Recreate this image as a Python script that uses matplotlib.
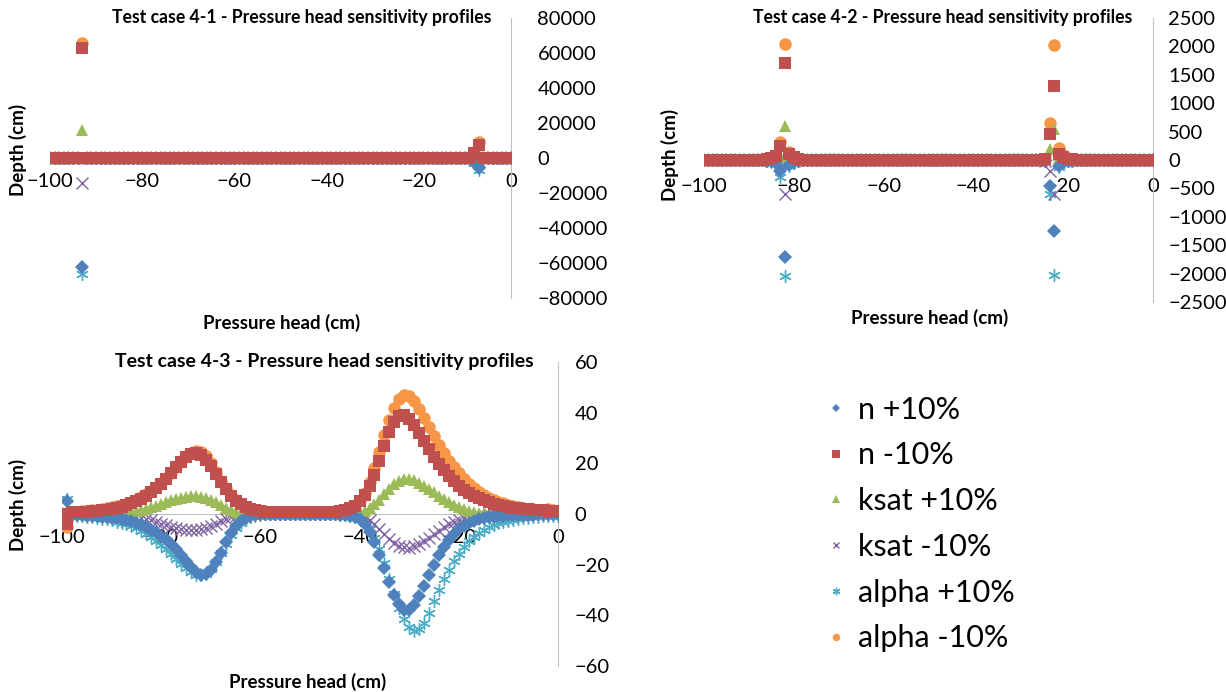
import numpy as np
import matplotlib
matplotlib.use("Agg")
from matplotlib import pyplot as plt

plt.rcParams["font.family"] = ["Lato", "DejaVu Sans"]

# x positions (pressure head grid, cm)
pressure_head = list(range(-100, 1))

series_names = ["n +10%", "n -10%", "ksat +10%", "ksat -10%", "alpha +10%", "alpha -10%"]
colors = ["#4F81BD", "#C0504D", "#9BBB59", "#8064A2", "#4BACC6", "#F79646"]
markers = ["D", "s", "^", "x", (6, 2, 0), "o"]
msizes = [7.5, 8.5, 8.5, 8, 9, 9]
zorders = [7, 8, 6, 5, 4, 3]

# ---- Test case 4-1: only a few non-zero points
p1_x = [-93, -8, -7]
p1_n_plus = [-62000, -2500, -5500]
p1_n_minus = [63000, 3000, 7500]
p1_ksat_plus = [16000, 500, 1500]
p1_ksat_minus = [-14000, -500, -1500]
p1_alpha_plus = [-66000, -3000, -7000]
p1_alpha_minus = [66000, 3500, 9000]

# ---- Test case 4-2: non-zero points around two fronts
p2_x = [-86, -85, -84, -83, -82, -81, -80, -79, -24, -23, -22, -21, -20, -19, -18]
p2_n_plus = [-10, -20, -50, -200, -1700, -90, -40, -20, -20, -450, -1250, -100, -40, -20, -10]
p2_n_minus = [15, 30, 70, 250, 1700, 110, 50, 20, 20, 450, 1300, 110, 50, 25, 10]
p2_ksat_plus = [5, 10, 20, 50, 600, 30, 15, 5, 10, 200, 550, 30, 15, 5, 2]
p2_ksat_minus = [-5, -10, -20, -50, -600, -30, -15, -5, -10, -200, -600, -30, -15, -5, -2]
p2_alpha_plus = [-15, -30, -70, -300, -2050, -100, -50, -20, -20, -600, -2020, -120, -50, -25, -10]
p2_alpha_minus = [20, 35, 90, 320, 2050, 140, 60, 25, 25, 650, 2030, 220, 80, 35, 15]

# ---- Test case 4-3: full profiles, x = -100 ... 0
p3_n_plus = [
    0, 5, -0.3, -0.4, -0.5, -0.6, -0.7, -0.8, -1.0, -1.2,
    -1.4, -1.7, -2.0, -2.4, -2.9, -3.5, -4.2, -5.1, -6.2, -7.3,
    -8.5, -10.0, -11.8, -13.8, -16.0, -18.4, -20.8, -22.8, -24.0, -23.8,
    -22.0, -19.0, -15.2, -11.2, -7.6, -4.8, -2.8, -1.5, -0.7, -0.3,
    -0.1, 0, 0, 0, 0, 0, 0, 0, 0, 0,
    0, 0, 0, 0, 0, -0.1, -0.2, -0.4, -0.7, -1.2,
    -2.0, -4.0, -7.0, -11.0, -16.0, -21.5, -27.0, -32.0, -35.5, -37.8,
    -38.0, -36.0, -32.5, -28.5, -24.2, -20.0, -16.2, -13.0, -10.2, -7.8,
    -6.0, -4.6, -3.5, -2.7, -2.1, -1.6, -1.3, -1.0, -0.8, -0.6,
    -0.5, -0.4, -0.3, -0.3, -0.2, -0.2, -0.1, -0.1, -0.1, 0,
    0]
p3_n_minus = [
    0, -4, 0.6, 0.7, 0.8, 0.9, 1.0, 1.2, 1.4, 1.7,
    2.0, 2.4, 2.9, 3.5, 4.2, 5.0, 6.0, 7.2, 8.6, 10.2,
    12.0, 14.0, 16.2, 18.5, 20.7, 22.5, 23.7, 24.0, 23.2, 21.4,
    18.8, 15.8, 12.7, 9.8, 7.3, 5.3, 3.8, 2.7, 1.9, 1.4,
    1.1, 0.9, 0.8, 0.7, 0.7, 0.6, 0.6, 0.6, 0.6, 0.6,
    0.6, 0.6, 0.6, 0.7, 0.8, 0.9, 1.1, 1.5, 2.2, 3.3,
    5.2, 7.6, 11.0, 15.5, 21.0, 27.0, 32.5, 36.5, 38.8, 39.2,
    37.5, 35.0, 32.0, 28.8, 25.6, 22.6, 19.8, 17.2, 14.9, 12.9,
    11.1, 9.6, 8.3, 7.2, 6.2, 5.4, 4.7, 4.1, 3.6, 3.2,
    2.8, 2.5, 2.2, 2.0, 1.8, 1.6, 1.5, 1.4, 1.3, 1.2,
    1.0]
p3_ksat_plus = [
    0, 0, 0.1, 0.1, 0.1, 0.1, 0.1, 0.1, 0.1, 0.1,
    0.2, 0.3, 0.4, 0.6, 0.8, 1.1, 1.5, 2.0, 2.6, 3.3,
    4.0, 4.7, 5.4, 6.0, 6.5, 6.9, 7.1, 7.1, 6.9, 6.4,
    5.6, 4.6, 3.5, 2.5, 1.6, 0.9, 0.5, 0.2, 0.1, 0,
    0, 0, 0, 0, 0, 0, 0, 0, 0, 0,
    0, 0, 0, 0, 0, 0, 0, 0, 0.1, 0.2,
    0.5, 1.2, 2.3, 3.8, 5.7, 7.8, 9.9, 11.7, 13.0, 13.7,
    13.8, 13.3, 12.4, 11.2, 9.9, 8.5, 7.1, 5.8, 4.6, 3.5,
    2.6, 1.8, 1.2, 0.7, 0.4, 0.2, 0.1, 0, 0, 0,
    0, 0, 0, 0, 0, 0, 0, 0, 0, 0,
    0]
p3_ksat_minus = [
    0, 0, 0, 0, 0, 0, 0, 0, 0, 0,
    -0.1, -0.2, -0.3, -0.5, -0.7, -1.0, -1.4, -1.9, -2.5, -3.1,
    -3.8, -4.5, -5.1, -5.6, -6.0, -6.3, -6.4, -6.3, -6.0, -5.5,
    -4.7, -3.8, -2.8, -1.9, -1.2, -0.6, -0.3, -0.1, 0, 0,
    0, 0, 0, 0, 0, 0, 0, 0, 0, 0,
    0, 0, 0, 0, 0, 0, 0, 0, 0, -0.1,
    -0.5, -1.3, -2.5, -4.0, -5.8, -7.8, -9.7, -11.3, -12.5, -13.2,
    -13.3, -12.8, -11.9, -10.7, -9.4, -8.0, -6.6, -5.3, -4.1, -3.1,
    -2.2, -1.5, -1.0, -0.6, -0.3, -0.2, -0.1, 0, 0, 0,
    0, 0, 0, 0, 0, 0, 0, 0, 0, 0,
    0]
p3_alpha_plus = [
    0, 6, -0.6, -0.7, -0.9, -1.1, -1.3, -1.5, -1.8, -2.1,
    -2.5, -3.0, -3.5, -4.1, -4.8, -5.6, -6.6, -7.7, -9.0, -10.5,
    -12.1, -13.9, -15.8, -17.7, -19.6, -21.4, -22.9, -23.9, -24.2, -23.6,
    -21.8, -19.0, -15.5, -11.8, -8.4, -5.6, -3.5, -2.1, -1.2, -0.6,
    -0.3, -0.1, 0, 0, 0, 0, 0, 0, 0, 0,
    0, 0, 0, 0, 0, -0.1, -0.2, -0.4, -0.7, -1.2,
    -2.0, -3.5, -6.0, -9.5, -14.0, -19.5, -25.5, -31.5, -37.0, -41.5,
    -44.5, -46.0, -45.5, -43.0, -39.0, -34.5, -30.0, -25.8, -22.0, -18.6,
    -15.6, -13.0, -10.8, -9.0, -7.5, -6.2, -5.2, -4.4, -3.7, -3.1,
    -2.6, -2.2, -1.9, -1.6, -1.4, -1.2, -1.0, -0.9, -0.8, -0.7,
    -0.6]
p3_alpha_minus = [
    0, -5, 0.8, 0.9, 1.0, 1.2, 1.4, 1.6, 1.9, 2.2,
    2.6, 3.0, 3.5, 4.1, 4.8, 5.6, 6.6, 7.7, 9.0, 10.5,
    12.2, 14.2, 16.3, 18.6, 20.8, 22.7, 24.1, 24.8, 24.4, 22.8,
    20.0, 16.6, 13.2, 10.1, 7.5, 5.4, 3.9, 2.8, 2.0, 1.5,
    1.2, 1.0, 0.8, 0.7, 0.7, 0.6, 0.6, 0.6, 0.6, 0.6,
    0.6, 0.6, 0.7, 0.7, 0.8, 1.0, 1.2, 1.6, 2.3, 3.4,
    5.6, 8.4, 12.5, 18.0, 24.5, 31.0, 37.0, 42.0, 45.5, 47.0,
    46.5, 44.5, 41.5, 38.0, 34.3, 30.6, 27.2, 24.0, 21.1, 18.5,
    16.0, 13.8, 11.9, 10.2, 8.8, 7.6, 6.5, 5.6, 4.8, 4.2,
    3.6, 3.1, 2.7, 2.4, 2.1, 1.9, 1.7, 1.6, 2.0, 1.5,
    1.0]


def full_profile(spike_x, spike_y):
    y = np.zeros(len(pressure_head))
    for xv, yv in zip(spike_x, spike_y):
        y[pressure_head.index(xv)] = yv
    return y


p1 = [full_profile(p1_x, s) for s in
      [p1_n_plus, p1_n_minus, p1_ksat_plus, p1_ksat_minus, p1_alpha_plus, p1_alpha_minus]]
p2 = [full_profile(p2_x, s) for s in
      [p2_n_plus, p2_n_minus, p2_ksat_plus, p2_ksat_minus, p2_alpha_plus, p2_alpha_minus]]
p3 = [p3_n_plus, p3_n_minus, p3_ksat_plus, p3_ksat_minus, p3_alpha_plus, p3_alpha_minus]

W, H = 1226, 692
fig = plt.figure(figsize=(W / 100, H / 100), dpi=100)


def px_axes(x0, x1, y0, y1):
    # pixel box (left, right, top, bottom) -> axes
    return fig.add_axes([x0 / W, 1 - y1 / H, (x1 - x0) / W, (y1 - y0) / H])


def draw_panel(ax, data, ylim, ystep, title, title_x, title_size, xpad, ypad):
    handles = []
    for i in range(6):
        if isinstance(markers[i], tuple) or markers[i] == "x":
            h, = ax.plot(pressure_head, data[i], linestyle="none", marker=markers[i],
                         color=colors[i], ms=msizes[i], mew=1.0, zorder=zorders[i])
        else:
            h, = ax.plot(pressure_head, data[i], linestyle="none", marker=markers[i],
                         color=colors[i], ms=msizes[i], mew=0, zorder=zorders[i])
        handles.append(h)
    ax.set_xlim(-100, 0)
    ax.set_ylim(*ylim)
    ax.set_xticks(range(-100, 1, 20))
    ax.set_yticks(np.arange(ylim[0], ylim[1] + ystep / 2, ystep))
    ax.yaxis.tick_right()
    for s in ["top", "left"]:
        ax.spines[s].set_visible(False)
    ax.spines["bottom"].set_position(("data", 0))
    ax.spines["bottom"].set_color("#bfbfbf")
    ax.spines["right"].set_color("#bfbfbf")
    ax.tick_params(axis="x", length=0, pad=xpad, labelsize=14.5)
    ax.tick_params(axis="y", length=0, pad=ypad, labelsize=14.5)
    ax.patch.set_alpha(0)
    ax.text(title_x, 1.0, title, transform=ax.transAxes, ha="center", va="center",
            fontsize=title_size, fontweight="bold")
    return handles


ax1 = px_axes(50, 511, 18, 298)
draw_panel(ax1, p1, (-80000, 80000), 20000,
           "Test case 4-1 - Pressure head sensitivity profiles", 0.547, 12.7, 11, 19)
ax2 = px_axes(704, 1153, 18, 302)
draw_panel(ax2, p2, (-2500, 2500), 500,
           "Test case 4-2 - Pressure head sensitivity profiles", 0.532, 12.7, 13, 11)
ax3 = px_axes(62, 558, 362, 666)
hs = draw_panel(ax3, p3, (-60, 60), 20,
                "Test case 4-3 - Pressure head sensitivity profiles", 0.528, 14, 11, 12)

lab = dict(fontsize=13.5, fontweight="bold", ha="center", va="center")
fig.text(18 / W, 1 - 150 / H, "Depth (cm)", rotation=90, **lab)
fig.text(282 / W, 1 - 323 / H, "Pressure head (cm)", **lab)
fig.text(670 / W, 1 - 155 / H, "Depth (cm)", rotation=90, **lab)
fig.text(930 / W, 1 - 318 / H, "Pressure head (cm)", **lab)
fig.text(18 / W, 1 - 505 / H, "Depth (cm)", rotation=90, **lab)
fig.text(308 / W, 1 - 682 / H, "Pressure head (cm)", **lab)

fig.legend(hs, series_names, loc="center left", bbox_to_anchor=(808 / W, 1 - 524 / H),
           frameon=False, fontsize=22, markerscale=0.6, handlelength=0.8,
           handletextpad=0.35, borderpad=0, labelspacing=0.58)

fig.savefig("out.png", dpi=100)
